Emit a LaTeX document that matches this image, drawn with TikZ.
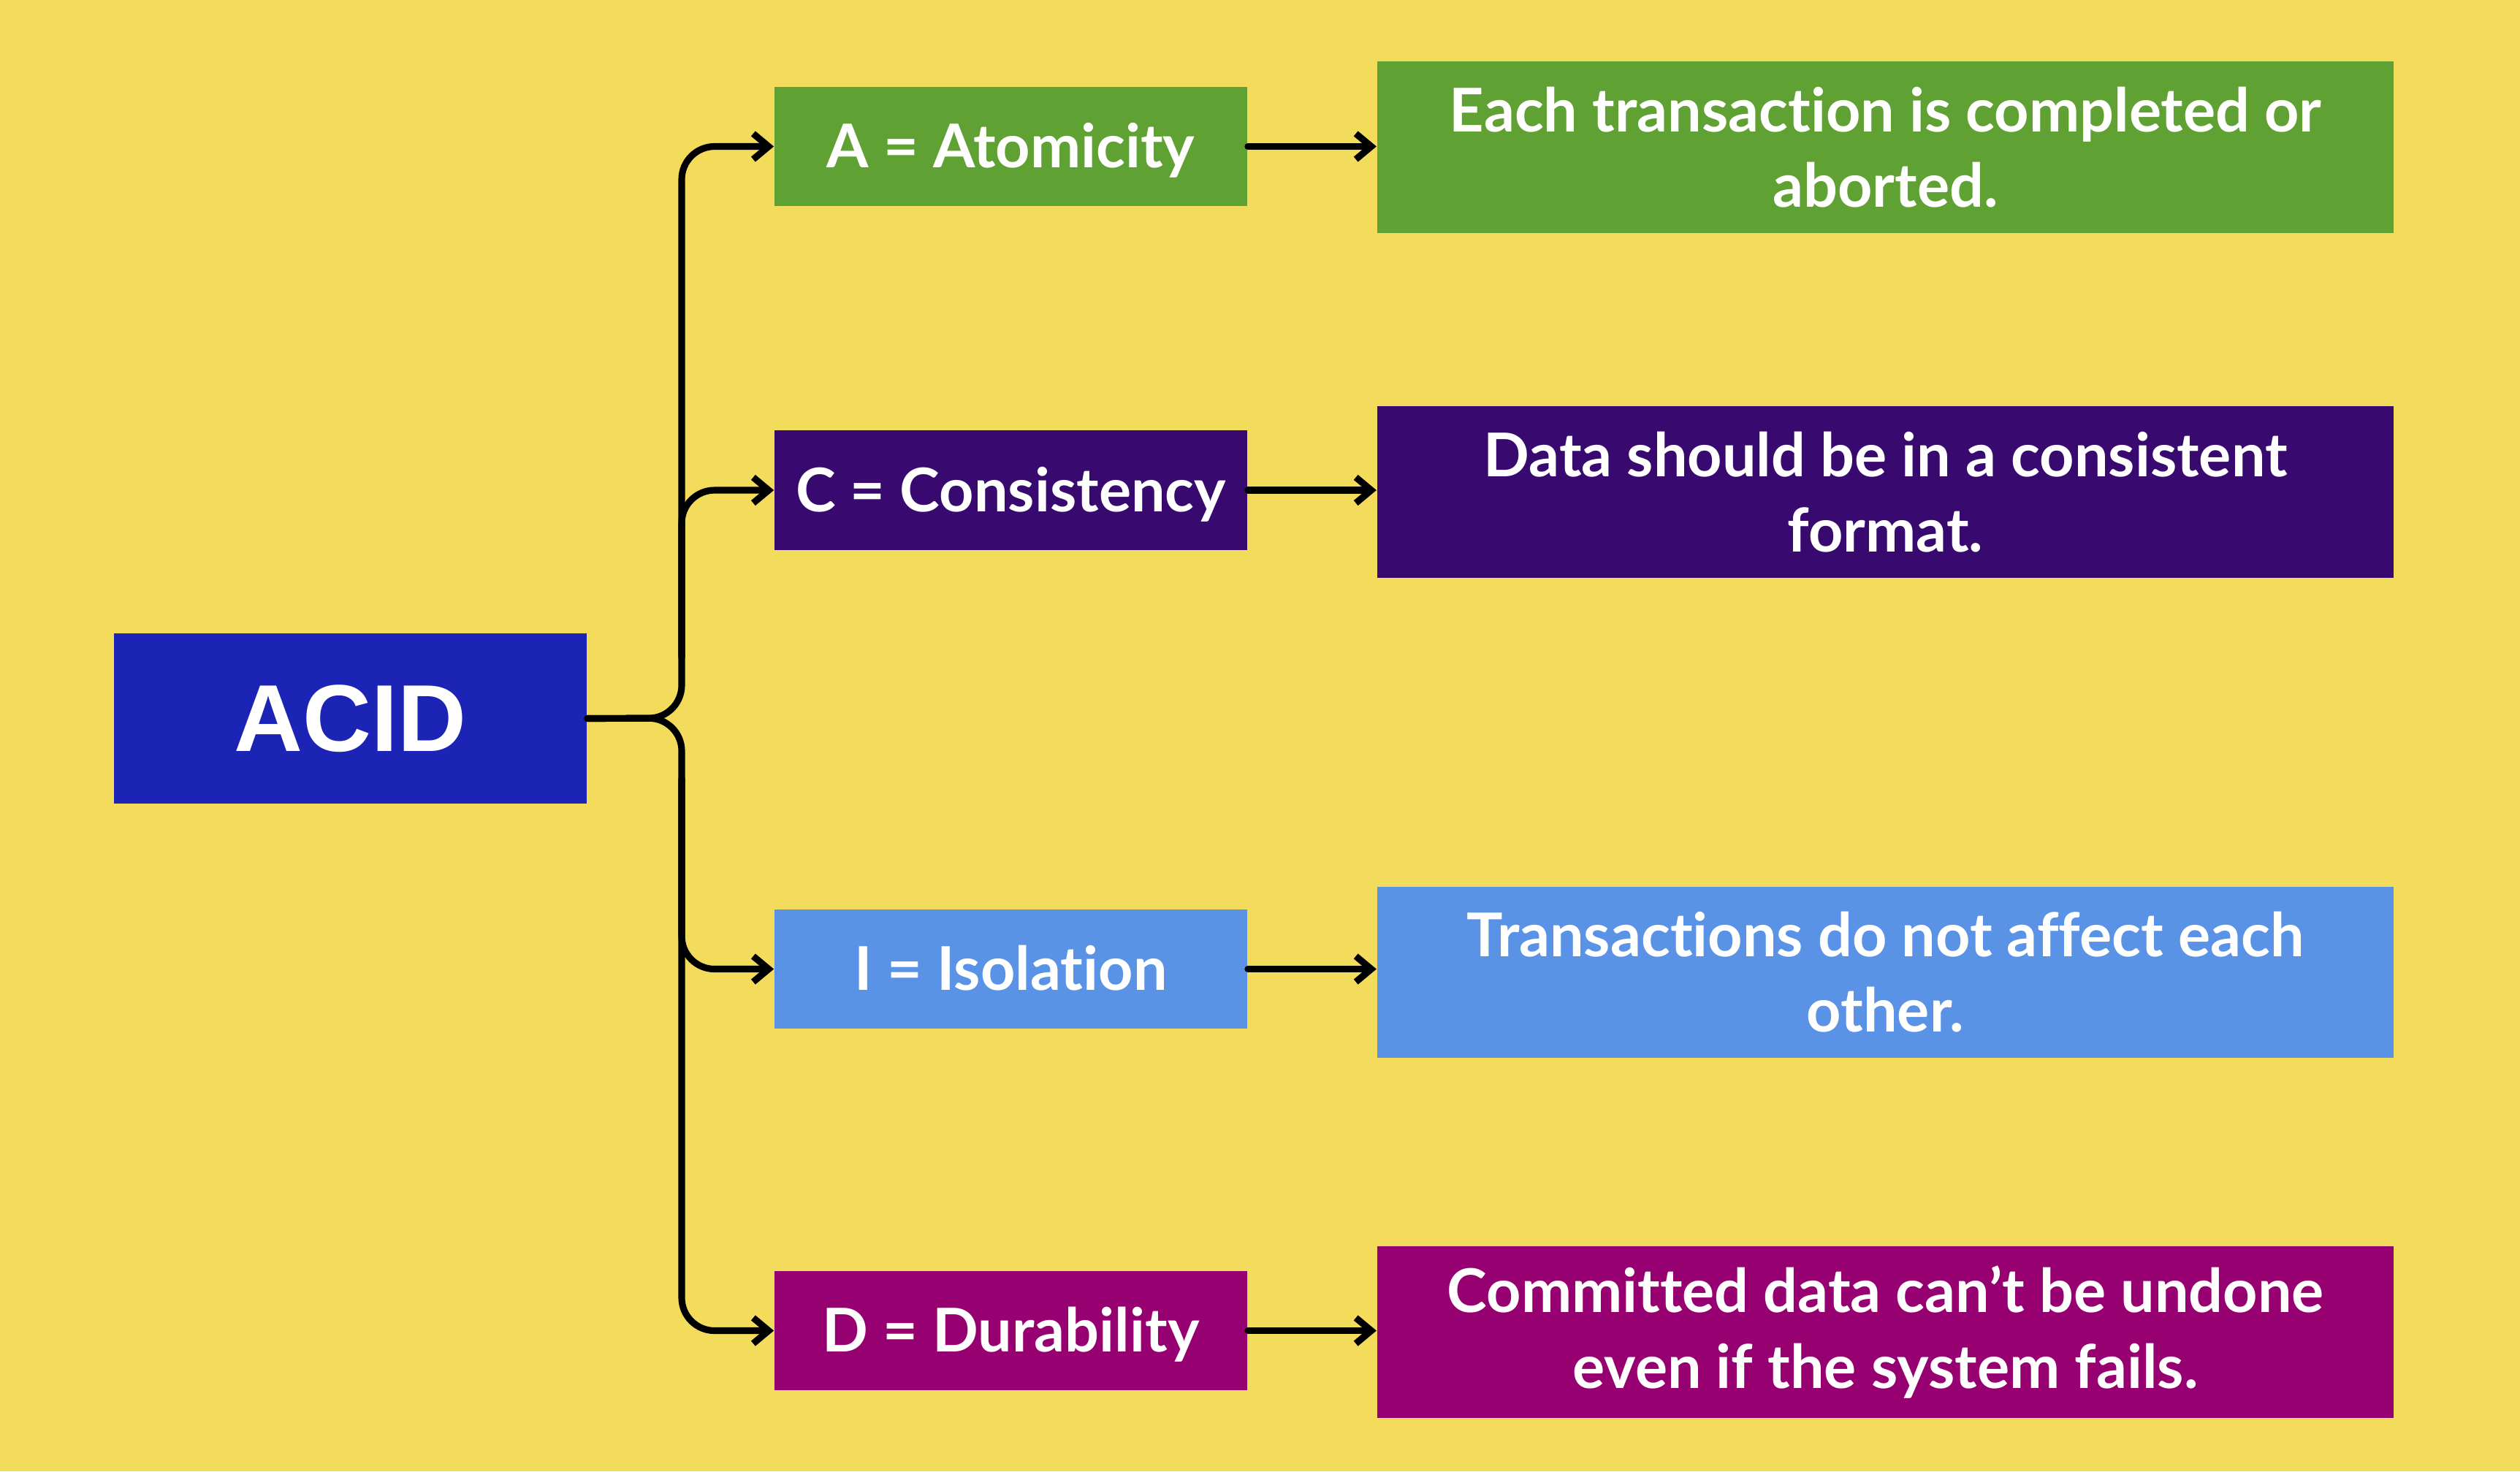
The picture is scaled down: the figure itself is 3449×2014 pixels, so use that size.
\documentclass[tikz,border=0pt]{standalone}
\usepackage{fontspec}
\setmainfont{Lato}[Ligatures={NoCommon,NoRare}]
\newfontfamily\acidfont{Liberation Sans}
\usetikzlibrary{arrows.meta}

\definecolor{bgyellow}{HTML}{F3DC5C}
\definecolor{acidblue}{HTML}{1B24B5}
\definecolor{agreen}{HTML}{5FA133}
\definecolor{cpurple}{HTML}{380A6F}
\definecolor{iblue}{HTML}{5A93E6}
\definecolor{dmagenta}{HTML}{970070}

\tikzset{
  box/.style={rectangle, inner sep=0pt, text=white, align=center,
              font=\bfseries\fontsize{23.5}{29.5}\selectfont},
  keybox/.style={box, minimum width=6.47cm, minimum height=1.63cm,
                 text height=16.5pt, text depth=0pt},
  textbox/.style={box, minimum width=13.91cm, minimum height=2.34cm,
                  font=\bfseries\fontsize{23.5}{29.3}\selectfont},
  link/.style={line width=2.6pt, black, line cap=round, line join=round},
  arrowlink/.style={link, -{Straight Barb[length=6pt, width=10pt, line width=2.6pt]}},
}

\begin{document}
\begin{tikzpicture}[x=0.01cm, y=-0.01cm]
  % canvas
  \fill[bgyellow] (0,0) rectangle (3449,2014);
  \useasboundingbox (0,0) rectangle (3449,2014);

  % root
  \node[box, fill=acidblue, minimum width=6.47cm, minimum height=2.33cm,
        font=\acidfont\bfseries\fontsize{37}{40}\selectfont] (acid) at (479.5,983.5) {ACID};

  % letter boxes
  \node[keybox, fill=agreen]   (a) at (1383.5,200.5)  {A = Atomicity};
  \node[keybox, fill=cpurple]  (c) at (1383.5,671)    {C = Consistency};
  \node[keybox, fill=iblue]    (i) at (1383.5,1326.5) {I = Isolation};
  \node[keybox, fill=dmagenta] (d) at (1383.5,1821.5) {D = Durability};

  % descriptions
  \node[textbox, fill=agreen]   (ta) at (2580.5,201.5)  {Each transaction is completed or\\aborted.};
  \node[textbox, fill=cpurple]  (tc) at (2580.5,673.5)  {Data should be in a consistent\\format.};
  \node[textbox, fill=iblue]    (ti) at (2580.5,1331)   {Transactions do not affect each\\other.};
  \node[textbox, fill=dmagenta] (td) at (2580.5,1823.5) {Committed data can’t be undone\\even if the system fails.};

  % branching connector: brace at the junction, trunk, and side branches
  \coordinate (j) at (933,983);
  \coordinate (ju) at (933,900);
  \coordinate (jd) at (933,1066);
  \draw[arrowlink, rounded corners=0.45cm] (acid.east) -- (j) |- (a.west);
  \draw[arrowlink, rounded corners=0.45cm] (acid.east) -- (j) |- (d.west);
  \draw[arrowlink, rounded corners=0.45cm] (ju) |- (c.west);
  \draw[arrowlink, rounded corners=0.45cm] (jd) |- (i.west);

  % letter to description
  \draw[arrowlink] (a.east) -- (a.east -| ta.west);
  \draw[arrowlink] (c.east) -- (c.east -| tc.west);
  \draw[arrowlink] (i.east) -- (i.east -| ti.west);
  \draw[arrowlink] (d.east) -- (d.east -| td.west);
\end{tikzpicture}
\end{document}
